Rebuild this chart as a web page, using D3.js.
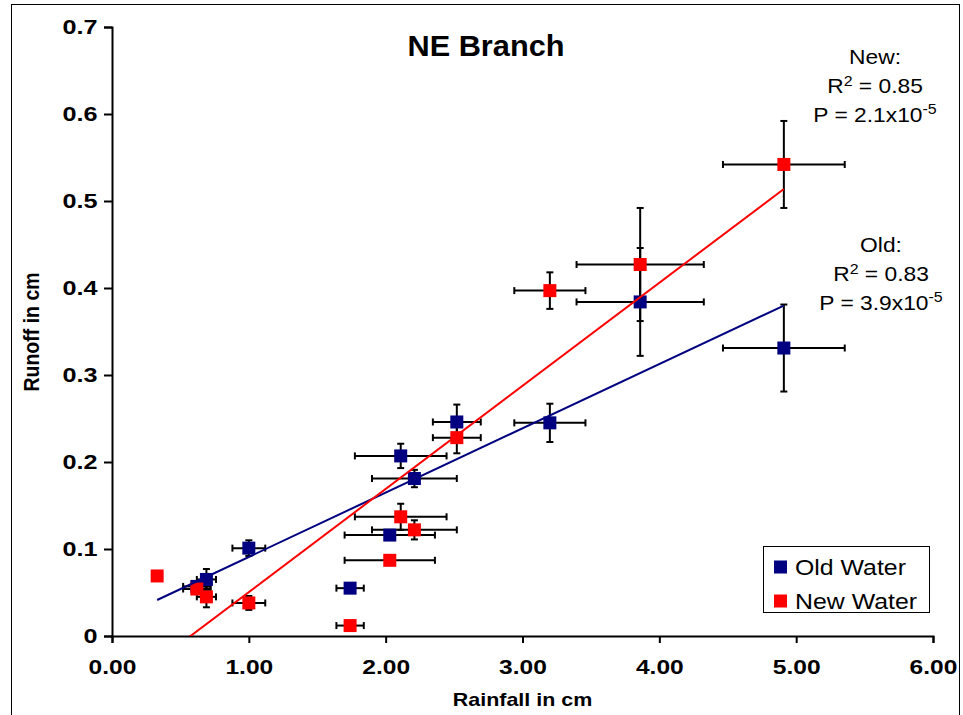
<!DOCTYPE html>
<html>
<head>
<meta charset="utf-8">
<script src="https://cdn.jsdelivr.net/npm/d3@7"></script>
<style>
  html, body { margin: 0; padding: 0; background: #fff; }
  svg { display: block; }
  text { font-family: "Liberation Sans", Arial, Helvetica, sans-serif; fill: #000; }
</style>
</head>
<body>
<svg id="chart" width="963" height="715"></svg>
<script>
// ---- Data ----
const oldX    = [0.62, 0.69, 1.00, 1.74, 2.03, 2.11, 2.21, 2.52, 3.20, 3.86, 4.91];
const oldY    = [0.057, 0.065, 0.101, 0.055, 0.116, 0.207, 0.181, 0.246, 0.245, 0.384, 0.331];
const oldXErr = [0.10, 0.07, 0.12, 0.10, 0.33, 0.335, 0.31, 0.175, 0.26, 0.465, 0.445];
const oldYErr = [0.004, 0.012, 0.009, 0.003, 0.004, 0.014, 0.010, 0.020, 0.022, 0.062, 0.050];

const newX    = [0.33, 0.62, 0.69, 1.00, 1.74, 2.03, 2.11, 2.21, 2.52, 3.20, 3.86, 4.91];
const newY    = [0.069, 0.054, 0.045, 0.038, 0.012, 0.087, 0.137, 0.122, 0.228, 0.397, 0.427, 0.542];
const newXErr = [0, 0.10, 0.07, 0.12, 0.10, 0.33, 0.335, 0.31, 0.175, 0.26, 0.465, 0.445];
const newYErr = [0, 0.005, 0.012, 0.008, 0.003, 0.005, 0.015, 0.011, 0.018, 0.021, 0.065, 0.050];

// trend lines: [slope, intercept], drawn over x range
const oldTrend = [0.0739, 0.0170];
const newTrend = [0.1185, -0.0680];
const trendRange = [0.33, 4.91];

const xTickValues = [0, 1, 2, 3, 4, 5, 6];
const xTickLabels = ["0.00", "1.00", "2.00", "3.00", "4.00", "5.00", "6.00"];
const yTickValues = [0, 0.1, 0.2, 0.3, 0.4, 0.5, 0.6, 0.7];
const yTickLabels = ["0", "0.1", "0.2", "0.3", "0.4", "0.5", "0.6", "0.7"];

const titleText = "NE Branch";
const xTitle = "Rainfall in cm";
const yTitle = "Runoff in cm";
const seriesNames = ["Old Water", "New Water"];
const seriesColors = ["#000080", "#FF0000"];

// ---- Layout ----
const svg = d3.select("#chart");
const plot = { left: 112, right: 933, top: 27, bottom: 636 };

const x = d3.scaleLinear().domain([0, 6]).range([plot.left, plot.right]);
const y = d3.scaleLinear().domain([0, 0.7]).range([plot.bottom, plot.top]);

// horizontally stretched text placed at (tx, ty)
function sText(parent, tx, ty, k) {
  return parent.append("g").attr("transform", `translate(${tx},${ty}) scale(${k},1)`)
    .append("text").attr("x", 0).attr("y", 0);
}

// outer frame
svg.append("rect")
  .attr("x", 11.5).attr("y", 4.5).attr("width", 948).attr("height", 720)
  .attr("fill", "none").attr("stroke", "#000").attr("stroke-width", 1);

svg.append("defs").append("clipPath").attr("id", "clip")
  .append("rect").attr("x", plot.left).attr("y", plot.top)
  .attr("width", plot.right - plot.left).attr("height", plot.bottom - plot.top);

// axes
const xAxis = d3.axisBottom(x).tickValues(xTickValues)
  .tickFormat((d, i) => xTickLabels[i]).tickSizeOuter(0).tickSize(7).tickPadding(16);
const yAxis = d3.axisLeft(y).tickValues(yTickValues)
  .tickFormat((d, i) => yTickLabels[i]).tickSizeOuter(0).tickSize(8).tickPadding(4);

const gx = svg.append("g").attr("transform", `translate(0,${plot.bottom})`).call(xAxis);
const gy = svg.append("g").attr("transform", `translate(${plot.left},0)`).call(yAxis);
[gx, gy].forEach(g => {
  g.select(".domain").attr("stroke", "#000").attr("stroke-width", 2);
  g.selectAll(".tick line").attr("stroke", "#000").attr("stroke-width", 2);
  g.selectAll(".tick text").attr("font-family", "'Liberation Sans', Arial, sans-serif")
    .attr("font-weight", "bold").attr("fill", "#000").attr("font-size", 21);
});
gx.selectAll(".tick text").attr("transform", "scale(1.17,1)");
gy.selectAll(".tick text").attr("transform", "scale(1.2,1)");

// axis titles
sText(svg, (plot.left + plot.right) / 2, 706, 1.13)
  .attr("text-anchor", "middle").attr("font-weight", "bold").attr("font-size", 19).text(xTitle);
svg.append("g").attr("transform", `translate(39,${332}) rotate(-90) scale(1,1.1)`)
  .append("text").attr("text-anchor", "middle").attr("font-weight", "bold")
  .attr("font-size", 19.5).text(yTitle);

// title
sText(svg, 486, 56, 1.06).attr("text-anchor", "middle")
  .attr("font-weight", "bold").attr("font-size", 29).text(titleText);

// error bars
function errorBars(xs, ys, xe, ye) {
  const g = svg.append("g").attr("stroke", "#000").attr("stroke-width", 2).attr("fill", "none");
  xs.forEach((xv, i) => {
    const cx = x(xv), cy = y(ys[i]);
    if (xe[i] > 0) {
      const x1 = x(xv - xe[i]), x2 = x(xv + xe[i]);
      g.append("line").attr("x1", x1).attr("x2", x2).attr("y1", cy).attr("y2", cy);
      g.append("line").attr("x1", x1).attr("x2", x1).attr("y1", cy - 3.5).attr("y2", cy + 3.5);
      g.append("line").attr("x1", x2).attr("x2", x2).attr("y1", cy - 3.5).attr("y2", cy + 3.5);
    }
    if (ye[i] > 0) {
      const y1 = y(ys[i] - ye[i]), y2 = y(ys[i] + ye[i]);
      g.append("line").attr("x1", cx).attr("x2", cx).attr("y1", y1).attr("y2", y2);
      g.append("line").attr("x1", cx - 3.5).attr("x2", cx + 3.5).attr("y1", y1).attr("y2", y1);
      g.append("line").attr("x1", cx - 3.5).attr("x2", cx + 3.5).attr("y1", y2).attr("y2", y2);
    }
  });
}
errorBars(oldX, oldY, oldXErr, oldYErr);
errorBars(newX, newY, newXErr, newYErr);

// markers
const ms = 13;
function markers(xs, ys, color) {
  svg.append("g").selectAll("rect").data(xs).join("rect")
    .attr("x", (d) => x(d) - ms / 2)
    .attr("y", (d, i) => y(ys[i]) - ms / 2)
    .attr("width", ms).attr("height", ms)
    .attr("fill", color);
}
markers(oldX, oldY, seriesColors[0]);
markers(newX, newY, seriesColors[1]);

// trend lines
function trend(params, color) {
  const pts = trendRange.map(xv => [xv, params[0] * xv + params[1]]);
  svg.append("path").attr("clip-path", "url(#clip)")
    .attr("d", d3.line().x(d => x(d[0])).y(d => y(d[1]))(pts))
    .attr("stroke", color).attr("stroke-width", 2).attr("fill", "none");
}
trend(oldTrend, seriesColors[0]);
trend(newTrend, seriesColors[1]);

// annotations
function annotation(cx, y0, head, r2, pMant) {
  const k = 1.14;
  sText(svg, cx, y0, k).attr("font-size", 20).attr("text-anchor", "middle").text(head);
  const t2 = sText(svg, cx, y0 + 29, k).attr("font-size", 20).attr("text-anchor", "middle");
  t2.append("tspan").text("R");
  t2.append("tspan").attr("font-size", 14).attr("dy", -7).text("2");
  t2.append("tspan").attr("dy", 7).text(" = " + r2);
  const t3 = sText(svg, cx, y0 + 58, k).attr("font-size", 20).attr("text-anchor", "middle");
  t3.append("tspan").text("P = " + pMant + "x10");
  t3.append("tspan").attr("font-size", 14).attr("dy", -8).text("-5");
}
annotation(875, 64, "New:", "0.85", "2.1");
annotation(881, 252, "Old:", "0.83", "3.9");

// legend
const lg = svg.append("g");
lg.append("rect").attr("x", 763.5).attr("y", 546.5).attr("width", 166).attr("height", 66)
  .attr("fill", "#fff").attr("stroke", "#000").attr("stroke-width", 1);
seriesNames.forEach((name, i) => {
  const cy = 567 + i * 34;
  lg.append("rect").attr("x", 774).attr("y", cy - 6.5).attr("width", 13).attr("height", 13)
    .attr("fill", seriesColors[i]);
  sText(lg, 795, cy + 7.5, 1.13).attr("font-size", 22).text(name);
});
</script>
</body>
</html>
